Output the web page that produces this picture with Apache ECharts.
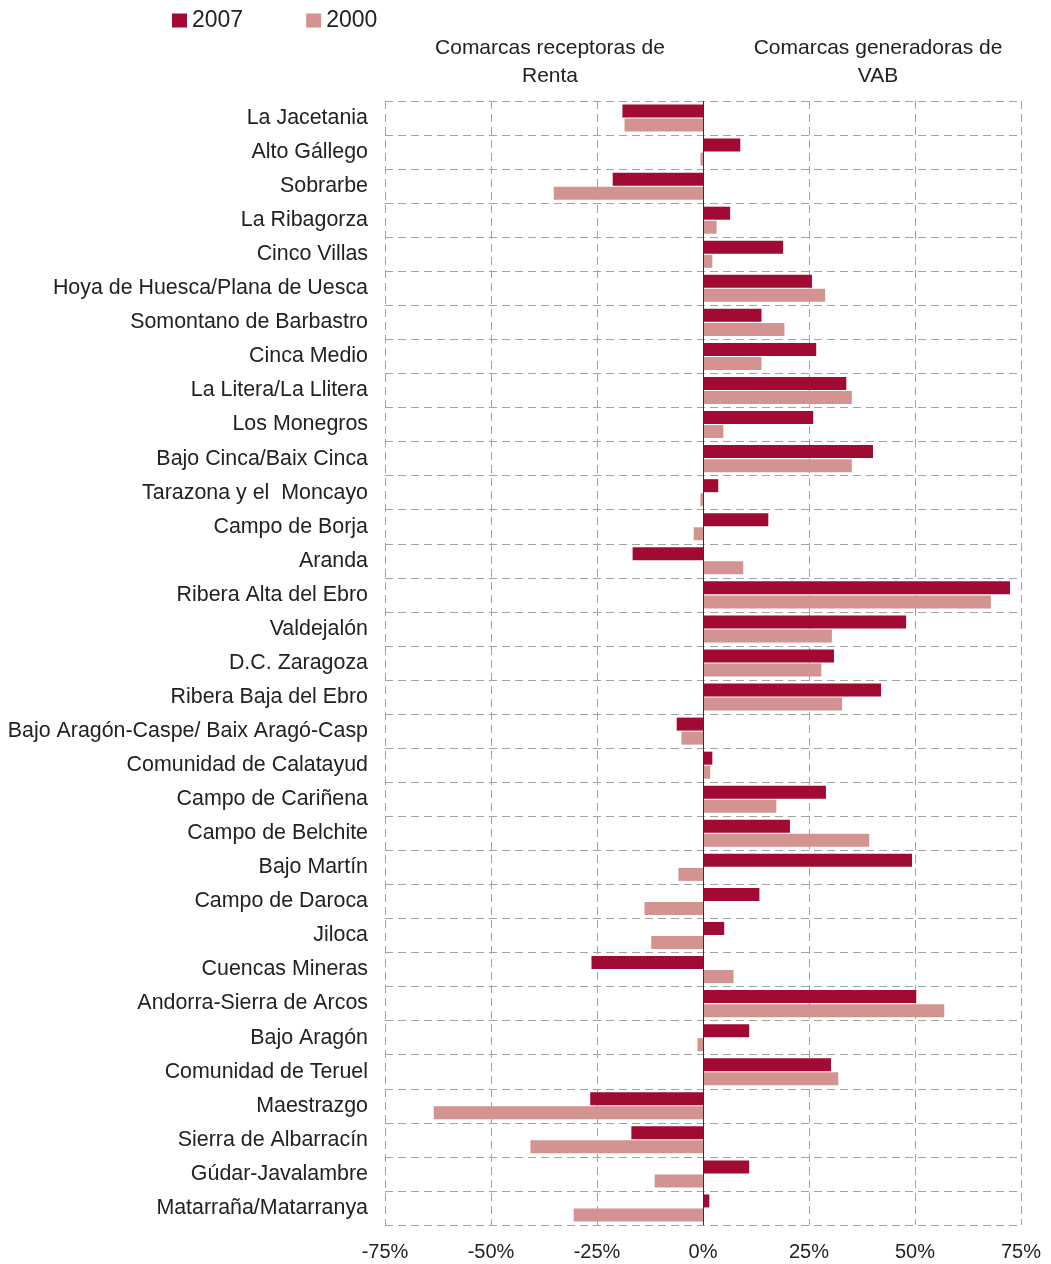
<!DOCTYPE html>
<html>
<head>
<meta charset="utf-8">
<script src="https://cdn.jsdelivr.net/npm/echarts@6/dist/echarts.min.js"></script>
<style>
html, body { margin: 0; padding: 0; background: #fff; }
#chart { width: 1051px; height: 1264px; }
</style>
</head>
<body>
<div id="chart"></div>
<script>
var comarcas = [
    "La Jacetania", "Alto Gállego", "Sobrarbe", "La Ribagorza", "Cinco Villas",
    "Hoya de Huesca/Plana de Uesca", "Somontano de Barbastro", "Cinca Medio",
    "La Litera/La Llitera", "Los Monegros", "Bajo Cinca/Baix Cinca",
    "Tarazona y el  Moncayo", "Campo de Borja", "Aranda", "Ribera Alta del Ebro",
    "Valdejalón", "D.C. Zaragoza", "Ribera Baja del Ebro",
    "Bajo Aragón-Caspe/ Baix Aragó-Casp", "Comunidad de Calatayud",
    "Campo de Cariñena", "Campo de Belchite", "Bajo Martín", "Campo de Daroca",
    "Jiloca", "Cuencas Mineras", "Andorra-Sierra de Arcos", "Bajo Aragón",
    "Comunidad de Teruel", "Maestrazgo", "Sierra de Albarracín",
    "Gúdar-Javalambre", "Matarraña/Matarranya"
];

var valores2007 = [
    -19.0, 8.8, -21.3, 6.4, 18.9, 25.7, 13.8, 26.7, 33.8, 26.0, 40.1,
    3.6, 15.4, -16.6, 72.4, 47.9, 30.9, 42.0, -6.2, 2.2, 29.0, 20.5,
    49.3, 13.3, 5.0, -26.3, 50.3, 10.9, 30.2, -26.6, -16.9, 10.9, 1.5
];

var valores2000 = [
    -18.5, -0.6, -35.2, 3.2, 2.2, 28.8, 19.2, 13.8, 35.1, 4.8, 35.1,
    -0.6, -2.2, 9.5, 67.9, 30.4, 27.9, 32.8, -5.1, 1.7, 17.3, 39.2,
    -5.8, -13.8, -12.2, 7.2, 56.9, -1.3, 31.9, -63.5, -40.7, -11.4, -30.5
];

var xTicks = [-75, -50, -25, 0, 25, 50, 75];

var font = "'Liberation Sans', Arial, sans-serif";
var gridDash = { color: '#a3a3a3', width: 1, type: [8, 5] };

var myChart = echarts.init(document.getElementById('chart'));

var option = {
    animation: false,
    backgroundColor: '#ffffff',
    textStyle: { fontFamily: font },
    color: ['#A00A33', '#D39390'],
    graphic: [
        {
            type: 'text',
            x: 550, y: 34,
            style: {
                text: 'Comarcas receptoras de\nRenta',
                font: '21px ' + font, fill: '#222',
                textAlign: 'center', textVerticalAlign: 'top', lineHeight: 28
            }
        },
        {
            type: 'text',
            x: 878, y: 34,
            style: {
                text: 'Comarcas generadoras de\nVAB',
                font: '21px ' + font, fill: '#222',
                textAlign: 'center', textVerticalAlign: 'top', lineHeight: 28
            }
        }
    ],
    legend: {
        left: 167, top: 4,
        itemWidth: 15, itemHeight: 14, itemGap: 63,
        icon: 'rect',
        textStyle: { fontSize: 23, color: '#222', fontFamily: font },
        data: ['2007', '2000']
    },
    grid: { left: 385, right: 30, top: 101, bottom: 39 },
    xAxis: {
        type: 'value',
        min: -75, max: 75, interval: 25,
        axisLine: { show: false },
        axisTick: { show: false },
        axisLabel: {
            fontSize: 20, color: '#222', margin: 17,
            formatter: function (v) { return xTicks.indexOf(v) >= 0 ? v + '%' : ''; }
        },
        splitLine: { show: true, lineStyle: gridDash }
    },
    yAxis: {
        type: 'category',
        inverse: true,
        data: comarcas,
        axisLine: { show: false },
        axisTick: { show: false },
        axisLabel: { fontSize: 21.4, color: '#222', margin: 17 },
        splitLine: { show: true, lineStyle: gridDash }
    },
    series: [
        {
            name: '2007', type: 'bar',
            barWidth: 13, barGap: '8%',
            data: valores2007,
            markLine: {
                silent: true, symbol: 'none',
                label: { show: false },
                lineStyle: { color: '#333', width: 1, type: 'solid' },
                data: [{ xAxis: 0 }]
            }
        },
        {
            name: '2000', type: 'bar',
            barWidth: 13, barGap: '8%',
            data: valores2000
        }
    ]
};

myChart.setOption(option);
</script>
</body>
</html>
